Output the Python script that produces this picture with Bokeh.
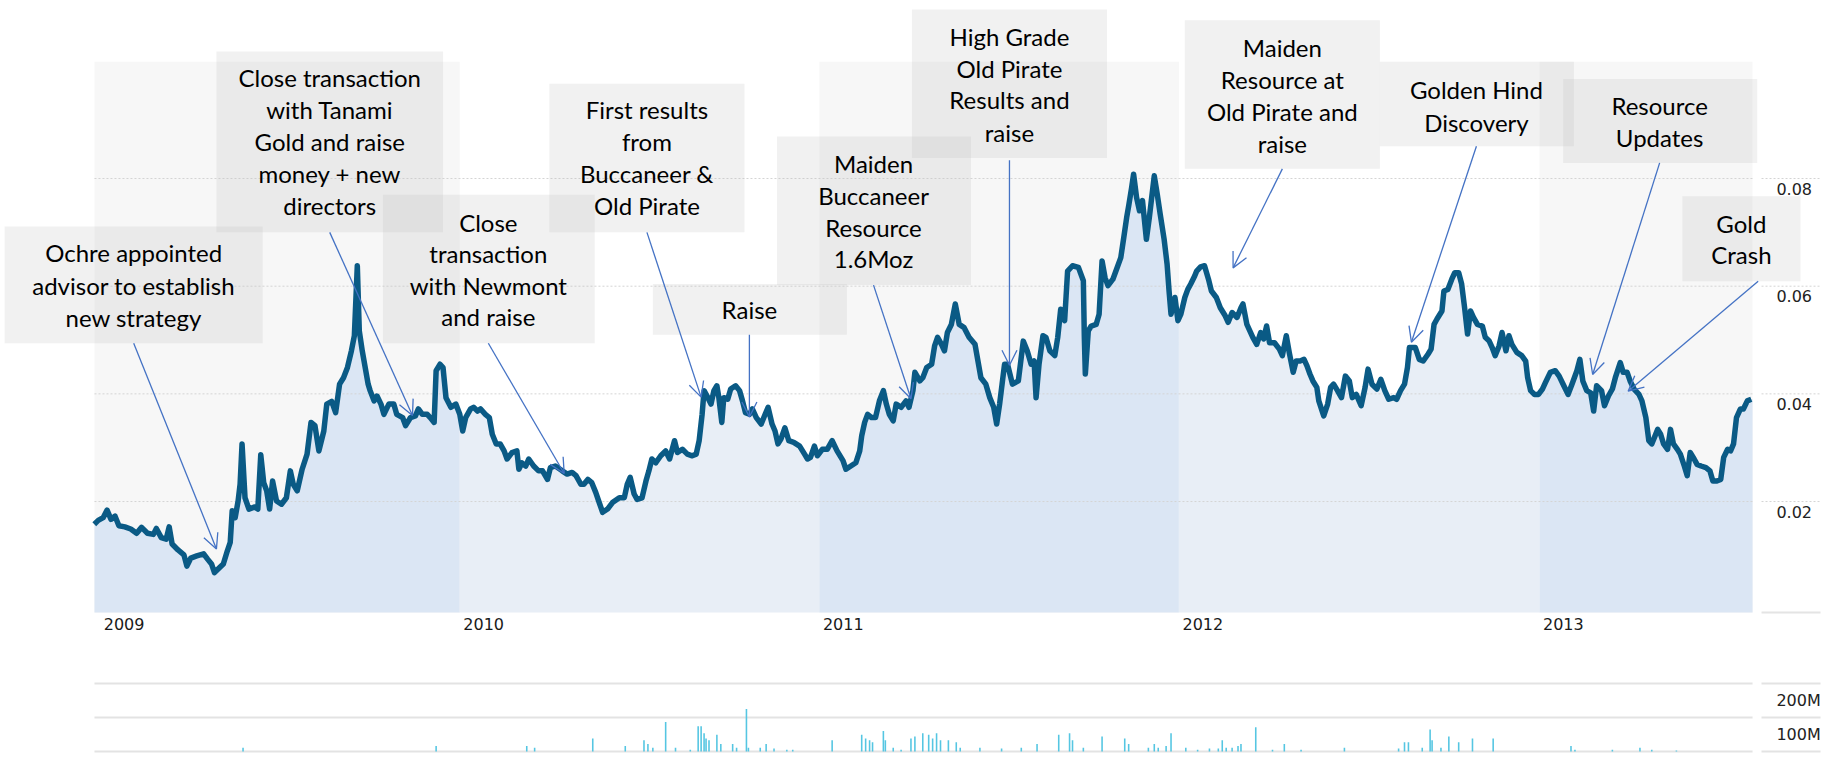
import numpy as np
import pandas as pd
from bokeh.plotting import figure
from bokeh.layouts import column
from bokeh.models import Range1d, BoxAnnotation, Label, Arrow, OpenHead
from bokeh.core.properties import value
from bokeh.embed import file_html
from bokeh.resources import INLINE

EPOCH = pd.Timestamp("2009-01-01")

# ---------------- data ----------------
# price: day offset from 2009-01-01, closing price (AUD)
PRICE_DAY = [-6, -2, 3, 7, 11, 15, 19, 25, 31, 37, 42, 48, 54, 57, 62, 67, 70, 73, 79, 85, 88, 92, 98, 105,
             109, 113, 116, 121, 125, 129, 132, 134, 137, 140, 142, 144, 147, 151, 157, 160, 163, 166, 169,
             172, 175, 179, 184, 189, 193, 196, 200, 205, 210, 214, 218, 222, 227, 230, 235, 239, 243, 247,
             251, 255, 258, 261, 263, 266,
             272, 274, 278, 281, 285, 288, 293, 298, 301, 307, 310, 315, 320, 323, 327, 332, 335, 339, 341,
             345, 348, 351, 356, 361, 365, 368, 371, 376, 379, 383, 386, 391, 395, 398, 402, 406, 410, 413,
             418, 423, 425, 428, 432, 435, 440, 445, 449, 454, 457, 462, 469, 474, 479, 483, 488, 491, 495,
             499, 503, 506, 510, 515, 520, 527, 532, 535, 538, 542, 545,
             550, 554, 557, 560, 564, 569, 574, 578, 583, 586, 591, 596, 601, 605, 608, 611, 613, 616, 620,
             623, 626, 628, 631, 633, 637, 640, 645, 649, 652, 655, 659, 662, 666, 671, 675, 678, 682, 685,
             688, 691, 695, 699, 704, 710, 715, 718, 721, 725, 728, 733, 738, 743, 748, 754, 757, 762, 767,
             771, 773, 776, 779, 783, 787, 791, 795, 798, 801, 805, 808, 813, 818, 821, 825, 827,
             832, 835, 839, 844, 847, 850, 854, 857, 860, 864, 868, 872, 877, 882, 888, 891, 894, 899, 903,
             907, 910, 913, 918, 921, 926, 932, 937, 941, 945, 948, 950, 953, 957, 960, 964, 969, 972, 975,
             979, 982, 987, 993, 998, 999, 1000, 1003, 1006, 1011, 1014, 1017, 1020, 1023, 1028, 1033, 1036,
             1039, 1042, 1044, 1047, 1049, 1052, 1055, 1058, 1062, 1065, 1067, 1070, 1073, 1076, 1080, 1083,
             1085, 1087, 1091, 1094, 1097, 1101, 1104, 1107, 1111,
             1113, 1117, 1121, 1125, 1128, 1133, 1137, 1142, 1145, 1149, 1154, 1158, 1160, 1164, 1167, 1170,
             1174, 1178, 1181, 1184, 1187, 1192, 1197, 1200, 1204, 1207, 1211, 1214, 1218, 1222, 1225, 1228,
             1231, 1235, 1237, 1242, 1246, 1249, 1252, 1256, 1260, 1264, 1268, 1271, 1275, 1280, 1284, 1287,
             1291, 1296, 1300, 1304, 1308, 1313, 1316, 1320, 1324, 1327, 1329, 1335, 1339, 1343, 1348, 1351,
             1354, 1357, 1362, 1364, 1368, 1372, 1375, 1379, 1382, 1385, 1388,
             1391, 1394, 1398, 1403, 1406, 1410, 1413, 1416, 1420, 1423, 1427, 1430, 1433, 1438, 1443, 1447,
             1449, 1452, 1456, 1460, 1464, 1467, 1472, 1477, 1481, 1485, 1490, 1494, 1499, 1502, 1505, 1509,
             1513, 1516, 1519, 1524, 1527, 1531, 1535, 1538, 1543, 1546, 1550, 1553, 1557, 1562, 1565, 1569,
             1572, 1575, 1581, 1584, 1587, 1591, 1594, 1597, 1601, 1604, 1608, 1611, 1614, 1618, 1621, 1625,
             1630, 1634, 1637, 1641, 1645, 1648, 1652, 1655, 1658, 1661, 1665, 1668, 1672, 1676]
PRICE = [0.0158, 0.0165, 0.0170, 0.0184, 0.0167, 0.0173, 0.0155, 0.0153, 0.0149, 0.0141, 0.0152, 0.0141,
         0.0139, 0.0150, 0.0133, 0.0130, 0.0153, 0.0121, 0.0110, 0.0101, 0.0080, 0.0095, 0.0099, 0.0103,
         0.0093, 0.0084, 0.0068, 0.0077, 0.0084, 0.0108, 0.0124, 0.0183, 0.0170, 0.0201, 0.0232, 0.0307,
         0.0207, 0.0186, 0.0190, 0.0186, 0.0287, 0.0235, 0.0220, 0.0186, 0.0238, 0.0201, 0.0195, 0.0207,
         0.0257, 0.0232, 0.0220, 0.0260, 0.0288, 0.0347, 0.0341, 0.0294, 0.0331, 0.0381, 0.0386, 0.0365,
         0.0418, 0.0430, 0.0449, 0.0480, 0.0508, 0.0638, 0.0517, 0.0480,
         0.0418, 0.0406, 0.0387, 0.0396, 0.0381, 0.0362, 0.0381, 0.0381, 0.0362, 0.0356, 0.0341, 0.0356,
         0.0359, 0.0372, 0.0362, 0.0362, 0.0356, 0.0347, 0.0443, 0.0455, 0.0449, 0.0393, 0.0375, 0.0381,
         0.0362, 0.0331, 0.0356, 0.0372, 0.0375, 0.0368, 0.0372, 0.0362, 0.0356, 0.0325, 0.0307, 0.0307,
         0.0294, 0.0279, 0.0291, 0.0294, 0.0260, 0.0272, 0.0266, 0.0279, 0.0266, 0.0257, 0.0257, 0.0241,
         0.0263, 0.0266, 0.0257, 0.0251, 0.0254, 0.0248, 0.0232, 0.0232, 0.0241, 0.0235, 0.0217, 0.0201,
         0.0180, 0.0186, 0.0198, 0.0207, 0.0207, 0.0232, 0.0245, 0.0214, 0.0204,
         0.0207, 0.0238, 0.0257, 0.0279, 0.0272, 0.0285, 0.0294, 0.0279, 0.0313, 0.0291, 0.0297, 0.0288,
         0.0285, 0.0288, 0.0313, 0.0362, 0.0406, 0.0396, 0.0381, 0.0406, 0.0415, 0.0393, 0.0347, 0.0393,
         0.0390, 0.0409, 0.0415, 0.0406, 0.0387, 0.0365, 0.0362, 0.0372, 0.0356, 0.0344, 0.0362, 0.0375,
         0.0344, 0.0331, 0.0307, 0.0316, 0.0337, 0.0313, 0.0310, 0.0303, 0.0288, 0.0279, 0.0282, 0.0303,
         0.0285, 0.0297, 0.0297, 0.0313, 0.0294, 0.0276, 0.0260, 0.0266, 0.0272, 0.0294, 0.0322, 0.0347,
         0.0362, 0.0356, 0.0356, 0.0387, 0.0406, 0.0381, 0.0362, 0.0350, 0.0381, 0.0375, 0.0387, 0.0375,
         0.0406, 0.0440,
         0.0424, 0.0430, 0.0449, 0.0455, 0.0489, 0.0505, 0.0492, 0.0480, 0.0514, 0.0529, 0.0567, 0.0529,
         0.0523, 0.0505, 0.0492, 0.0461, 0.0430, 0.0418, 0.0393, 0.0375, 0.0344, 0.0381, 0.0455, 0.0455,
         0.0418, 0.0424, 0.0498, 0.0480, 0.0455, 0.0461, 0.0393, 0.0455, 0.0508, 0.0505, 0.0480, 0.0471,
         0.0505, 0.0557, 0.0536, 0.0628, 0.0638, 0.0635, 0.0610, 0.0505, 0.0437, 0.0517, 0.0526, 0.0529,
         0.0548, 0.0647, 0.0616, 0.0601, 0.0613, 0.0638, 0.0653, 0.0690, 0.0728, 0.0749, 0.0783, 0.0808,
         0.0765, 0.0740, 0.0759, 0.0687, 0.0728, 0.0759, 0.0805, 0.0771, 0.0734, 0.0687, 0.0641, 0.0591,
         0.0548, 0.0579, 0.0536, 0.0548, 0.0579, 0.0594, 0.0604, 0.0619,
         0.0628, 0.0636, 0.0638, 0.0613, 0.0591, 0.0579, 0.0560, 0.0545, 0.0533, 0.0551, 0.0542, 0.0560,
         0.0567, 0.0529, 0.0517, 0.0505, 0.0492, 0.0514, 0.0502, 0.0526, 0.0495, 0.0495, 0.0483, 0.0471,
         0.0508, 0.0477, 0.0440, 0.0461, 0.0461, 0.0464, 0.0452, 0.0437, 0.0424, 0.0412, 0.0387, 0.0359,
         0.0381, 0.0412, 0.0418, 0.0406, 0.0393, 0.0433, 0.0424, 0.0393, 0.0399, 0.0378, 0.0412, 0.0446,
         0.0418, 0.0409, 0.0427, 0.0406, 0.0390, 0.0393, 0.0390, 0.0406, 0.0418, 0.0449, 0.0486, 0.0486,
         0.0464, 0.0461, 0.0474, 0.0483, 0.0529, 0.0539, 0.0554, 0.0591, 0.0594, 0.0613, 0.0625, 0.0625,
         0.0604, 0.0560, 0.0511,
         0.0554, 0.0542, 0.0529, 0.0526, 0.0505, 0.0498, 0.0486, 0.0471, 0.0489, 0.0514, 0.0480, 0.0508,
         0.0492, 0.0477, 0.0471, 0.0461, 0.0430, 0.0406, 0.0399, 0.0399, 0.0409, 0.0421, 0.0440, 0.0443,
         0.0433, 0.0418, 0.0399, 0.0418, 0.0443, 0.0464, 0.0424, 0.0406, 0.0402, 0.0368, 0.0415, 0.0406,
         0.0378, 0.0396, 0.0409, 0.0430, 0.0458, 0.0440, 0.0440, 0.0424, 0.0409, 0.0399, 0.0387, 0.0356,
         0.0313, 0.0307, 0.0334, 0.0325, 0.0307, 0.0297, 0.0334, 0.0307, 0.0297, 0.0288, 0.0266, 0.0248,
         0.0291, 0.0279, 0.0269, 0.0266, 0.0263, 0.0257, 0.0238, 0.0238, 0.0241, 0.0282, 0.0297, 0.0294,
         0.0307, 0.0356, 0.0372, 0.0372, 0.0387, 0.0390]

# volume: day offset from 2009-01-01, shares traded (millions)
VOL_DAY = [145, 341, 433, 441, 500, 533, 552, 556, 561, 574, 584, 599, 607, 610, 613, 615, 618, 626, 630,
           642, 646, 656, 658, 670, 676, 684, 697, 703, 743, 773, 777, 781, 784, 795, 797, 805, 813, 823,
           827, 835, 841, 845, 849, 853, 861, 869, 873, 893, 915, 935, 951, 973, 984, 987, 998, 1017, 1040,
           1044, 1064, 1070, 1074, 1082, 1087, 1102, 1114, 1126, 1135, 1139, 1143, 1149, 1155, 1158, 1173,
           1190, 1202, 1219, 1263, 1318, 1324, 1328, 1342, 1350, 1352, 1361, 1369, 1379, 1393, 1414, 1493,
           1497, 1535, 1563, 1575, 1600]
VOL_M = [11, 16, 16, 11, 38, 16, 33, 22, 11, 87, 11, 5, 74, 74, 54, 38, 33, 49, 22,
         22, 11, 125, 11, 11, 22, 9, 5, 5, 33, 49, 38, 33, 27, 60, 33, 11, 5, 38,
         44, 54, 49, 38, 54, 33, 33, 27, 11, 11, 9, 11, 22, 49, 54, 33, 11, 44, 38,
         22, 11, 22, 11, 16, 54, 11, 5, 9, 9, 33, 11, 11, 16, 22, 71,
         5, 22, 5, 11, 9, 27, 27, 11, 65, 33, 11, 44, 27, 38, 38, 16,
         5, 5, 11, 5, 3]

YEARS = [2009, 2010, 2011, 2012, 2013]
SHADED_YEARS = [2009, 2011, 2013]
PRICE_TICKS = [0.02, 0.04, 0.06, 0.08]
PRICE_LABELS = ["0.02", "0.04", "0.06", "0.08"]
VOL_TICKS = [100e6, 200e6]
VOL_LABELS = ["100M", "200M"]

ANNOTATIONS = [
    # text lines, box (day_left, day_right, price_top, price_bottom), text centre day, line prices,
    # arrow start (day, price), arrow end (day, price)
    (["Ochre appointed", "advisor to establish", "new strategy"], (-97, 165, 0.0711, 0.0494), 34,
     [0.0662, 0.0601, 0.0542], (34, 0.0494), (118, 0.0112)),
    (["Close transaction", "with Tanami", "Gold and raise", "money + new", "directors"],
     (118, 348, 0.1036, 0.0700), 233, [0.0988, 0.0928, 0.0869, 0.0810, 0.0750], (233, 0.0700), (317, 0.0360)),
    (["Close", "transaction", "with Newmont", "and raise"], (287, 502, 0.0770, 0.0494), 394,
     [0.0719, 0.0660, 0.0601, 0.0544], (394, 0.0494), (471, 0.0252)),
    (["First results", "from", "Buccaneer &", "Old Pirate"], (456, 654, 0.0976, 0.0700), 555,
     [0.0928, 0.0868, 0.0809, 0.0749], (555, 0.0700), (610, 0.0394)),
    (["Raise"], (561, 758, 0.0604, 0.0510), 659, [0.0557], (659, 0.0510), (659, 0.0357)),
    (["Maiden", "Buccaneer", "Resource", "1.6Moz"], (687, 884, 0.0878, 0.0602), 785,
     [0.0827, 0.0769, 0.0709, 0.0651], (785, 0.0602), (823, 0.0391)),
    (["High Grade", "Old Pirate", "Results and", "raise"], (824, 1022, 0.1114, 0.0838), 923,
     [0.1064, 0.1005, 0.0946, 0.0886], (923, 0.0834), (923, 0.0453)),
    (["Maiden", "Resource at", "Old Pirate and", "raise"], (1101, 1299, 0.1094, 0.0818), 1200,
     [0.1044, 0.0984, 0.0925, 0.0865], (1200, 0.0818), (1150, 0.0634)),
    (["Golden Hind", "Discovery"], (1299, 1496, 0.1017, 0.0860), 1397, [0.0965, 0.0905],
     (1397, 0.0860), (1331, 0.0496)),
    (["Resource", "Updates"], (1485, 1682, 0.0985, 0.0829), 1583, [0.0936, 0.0877],
     (1583, 0.0829), (1515, 0.0436)),
    (["Gold", "Crash"], (1606, 1726, 0.0767, 0.0609), 1666, [0.0717, 0.0658],
     (1683, 0.0609), (1551, 0.0405)),
]


def ms(day):
    return (EPOCH + pd.Timedelta(days=float(day))).value / 1e6


def year_ms(y, extra_days=0.0):
    return (pd.Timestamp(year=y, month=1, day=1) + pd.Timedelta(days=extra_days)).value / 1e6


W = 1835
# visible window of the page (frames fill the whole canvas)
VX0, VX1 = ms(-101.2), ms(1761.5)
# price plotting area
X0, X1 = ms(-5.8), ms(1677.3)
Y0, Y1 = -0.0006, 0.1017
# right-hand label strip
RX0, RX1 = ms(1686.4), ms(1746.3)
LABEL_X = ms(1701.5)
LBL_SHIFT = 0.00186          # price tick labels sit just below their grid line
YEAR_LABEL_Y = -0.00266
FONT_AX = value("DejaVu Sans")

t = np.array([ms(d) for d in PRICE_DAY])
y = np.array(PRICE)

p = figure(width=W, height=640, x_range=Range1d(VX0, VX1), y_range=Range1d(-0.005814, 0.11307),
           output_backend="svg", toolbar_location=None,
           min_border_left=0, min_border_right=0, min_border_top=0, min_border_bottom=0,
           x_axis_location=None, y_axis_location=None, outline_line_color=None,
           background_fill_color="white", border_fill_color="white")
p.xgrid.visible = False
p.ygrid.visible = False

# alternate-year shading
band_l = [year_ms(yr) if yr != YEARS[0] else X0 for yr in SHADED_YEARS]
band_r = [year_ms(yr + 1) if yr != YEARS[-1] else X1 for yr in SHADED_YEARS]
p.quad(left=band_l, right=band_r, bottom=Y0, top=Y1, fill_color="#f7f7f7", line_color=None)

# area under the price line, per calendar year
bounds = [X0] + [year_ms(yr) for yr in YEARS[1:]] + [X1]
for i, yr in enumerate(YEARS):
    a, b = bounds[i], bounds[i + 1]
    inside = (t > a) & (t < b)
    xs = np.concatenate([[a], t[inside], [b]])
    ys = np.concatenate([[np.interp(a, t, y)], y[inside], [np.interp(b, t, y)]])
    color = "#dbe6f4" if yr in SHADED_YEARS else "#e8eef6"
    p.varea(x=xs, y1=Y0, y2=ys, fill_color=color)

# dotted horizontal grid, in plot area and under the labels
n = len(PRICE_TICKS)
p.segment(x0=[X0] * n + [RX0] * n, x1=[X1] * n + [RX1] * n, y0=PRICE_TICKS * 2, y1=PRICE_TICKS * 2,
          line_color="#d4d4d4", line_dash="2 2", line_width=1)
p.segment(x0=[RX0], x1=[RX1], y0=[Y0], y1=[Y0], line_color="#e4e4e4", line_width=2)

p.line(t, y, line_color="#0a5a85", line_width=5.5, line_join="round")

# price tick labels (right)
p.text(x=[LABEL_X] * n, y=[tk - LBL_SHIFT for tk in PRICE_TICKS], text=PRICE_LABELS,
       text_font=FONT_AX, text_font_size="16px", text_color="#222222",
       text_align="left", text_baseline="middle")

# year labels (below)
p.text(x=[year_ms(yr, 3.6) for yr in YEARS], y=[YEAR_LABEL_Y] * len(YEARS),
       text=[str(yr) for yr in YEARS],
       text_font=FONT_AX, text_font_size="16px", text_color="#1a1a1a",
       text_align="left", text_baseline="middle")

# annotations
BLUE = "#4472c4"
for lines, (dl, dr, pt, pb), cx, ly, (sx, sy), (ex, ey) in ANNOTATIONS:
    p.add_layout(BoxAnnotation(left=ms(dl), right=ms(dr), top=pt, bottom=pb,
                               fill_color="#bfbfbf", fill_alpha=0.22, line_color=None))
for lines, (dl, dr, pt, pb), cx, ly, (sx, sy), (ex, ey) in ANNOTATIONS:
    for txt, yy in zip(lines, ly):
        p.add_layout(Label(x=ms(cx), y=yy, text=txt, text_font="Lato", text_font_size="24px",
                           text_color="black", text_align="center", text_baseline="middle"))
    p.add_layout(Arrow(x_start=ms(sx), y_start=sy, x_end=ms(ex), y_end=ey,
                       line_color=BLUE, line_width=1.3,
                       end=OpenHead(size=15, line_color=BLUE, line_width=1.3)))

# ---------------- volume panel ----------------
VPX = 200e6 / 68.0            # shares per pixel in the volume strip
v = figure(width=W, height=117, x_range=p.x_range, y_range=Range1d(-17.6e6, 326.5e6),
           output_backend="svg", toolbar_location=None,
           min_border_left=0, min_border_right=0, min_border_top=0, min_border_bottom=0,
           x_axis_location=None, y_axis_location=None, outline_line_color=None,
           background_fill_color="white", border_fill_color="white")
v.xgrid.visible = False
v.ygrid.visible = False
gl = [0] + VOL_TICKS
m = len(gl)
v.segment(x0=[X0] * m + [RX0] * m, x1=[X1] * m + [RX1] * m, y0=gl * 2, y1=gl * 2,
          line_color="#e3e3e3", line_width=2)
v.vbar(x=[ms(d) for d in VOL_DAY], top=[mv * 1e6 for mv in VOL_M], width=1.6 * 86400000,
       fill_color="#55c6e2", line_color=None)
v.text(x=[LABEL_X] * len(VOL_TICKS), y=[tk - 17 * VPX for tk in VOL_TICKS], text=VOL_LABELS,
       text_font=FONT_AX, text_font_size="16px", text_color="#222222",
       text_align="left", text_baseline="middle")

layout = column(p, v, spacing=0)
open("out.html", "w").write(file_html(layout, INLINE))
